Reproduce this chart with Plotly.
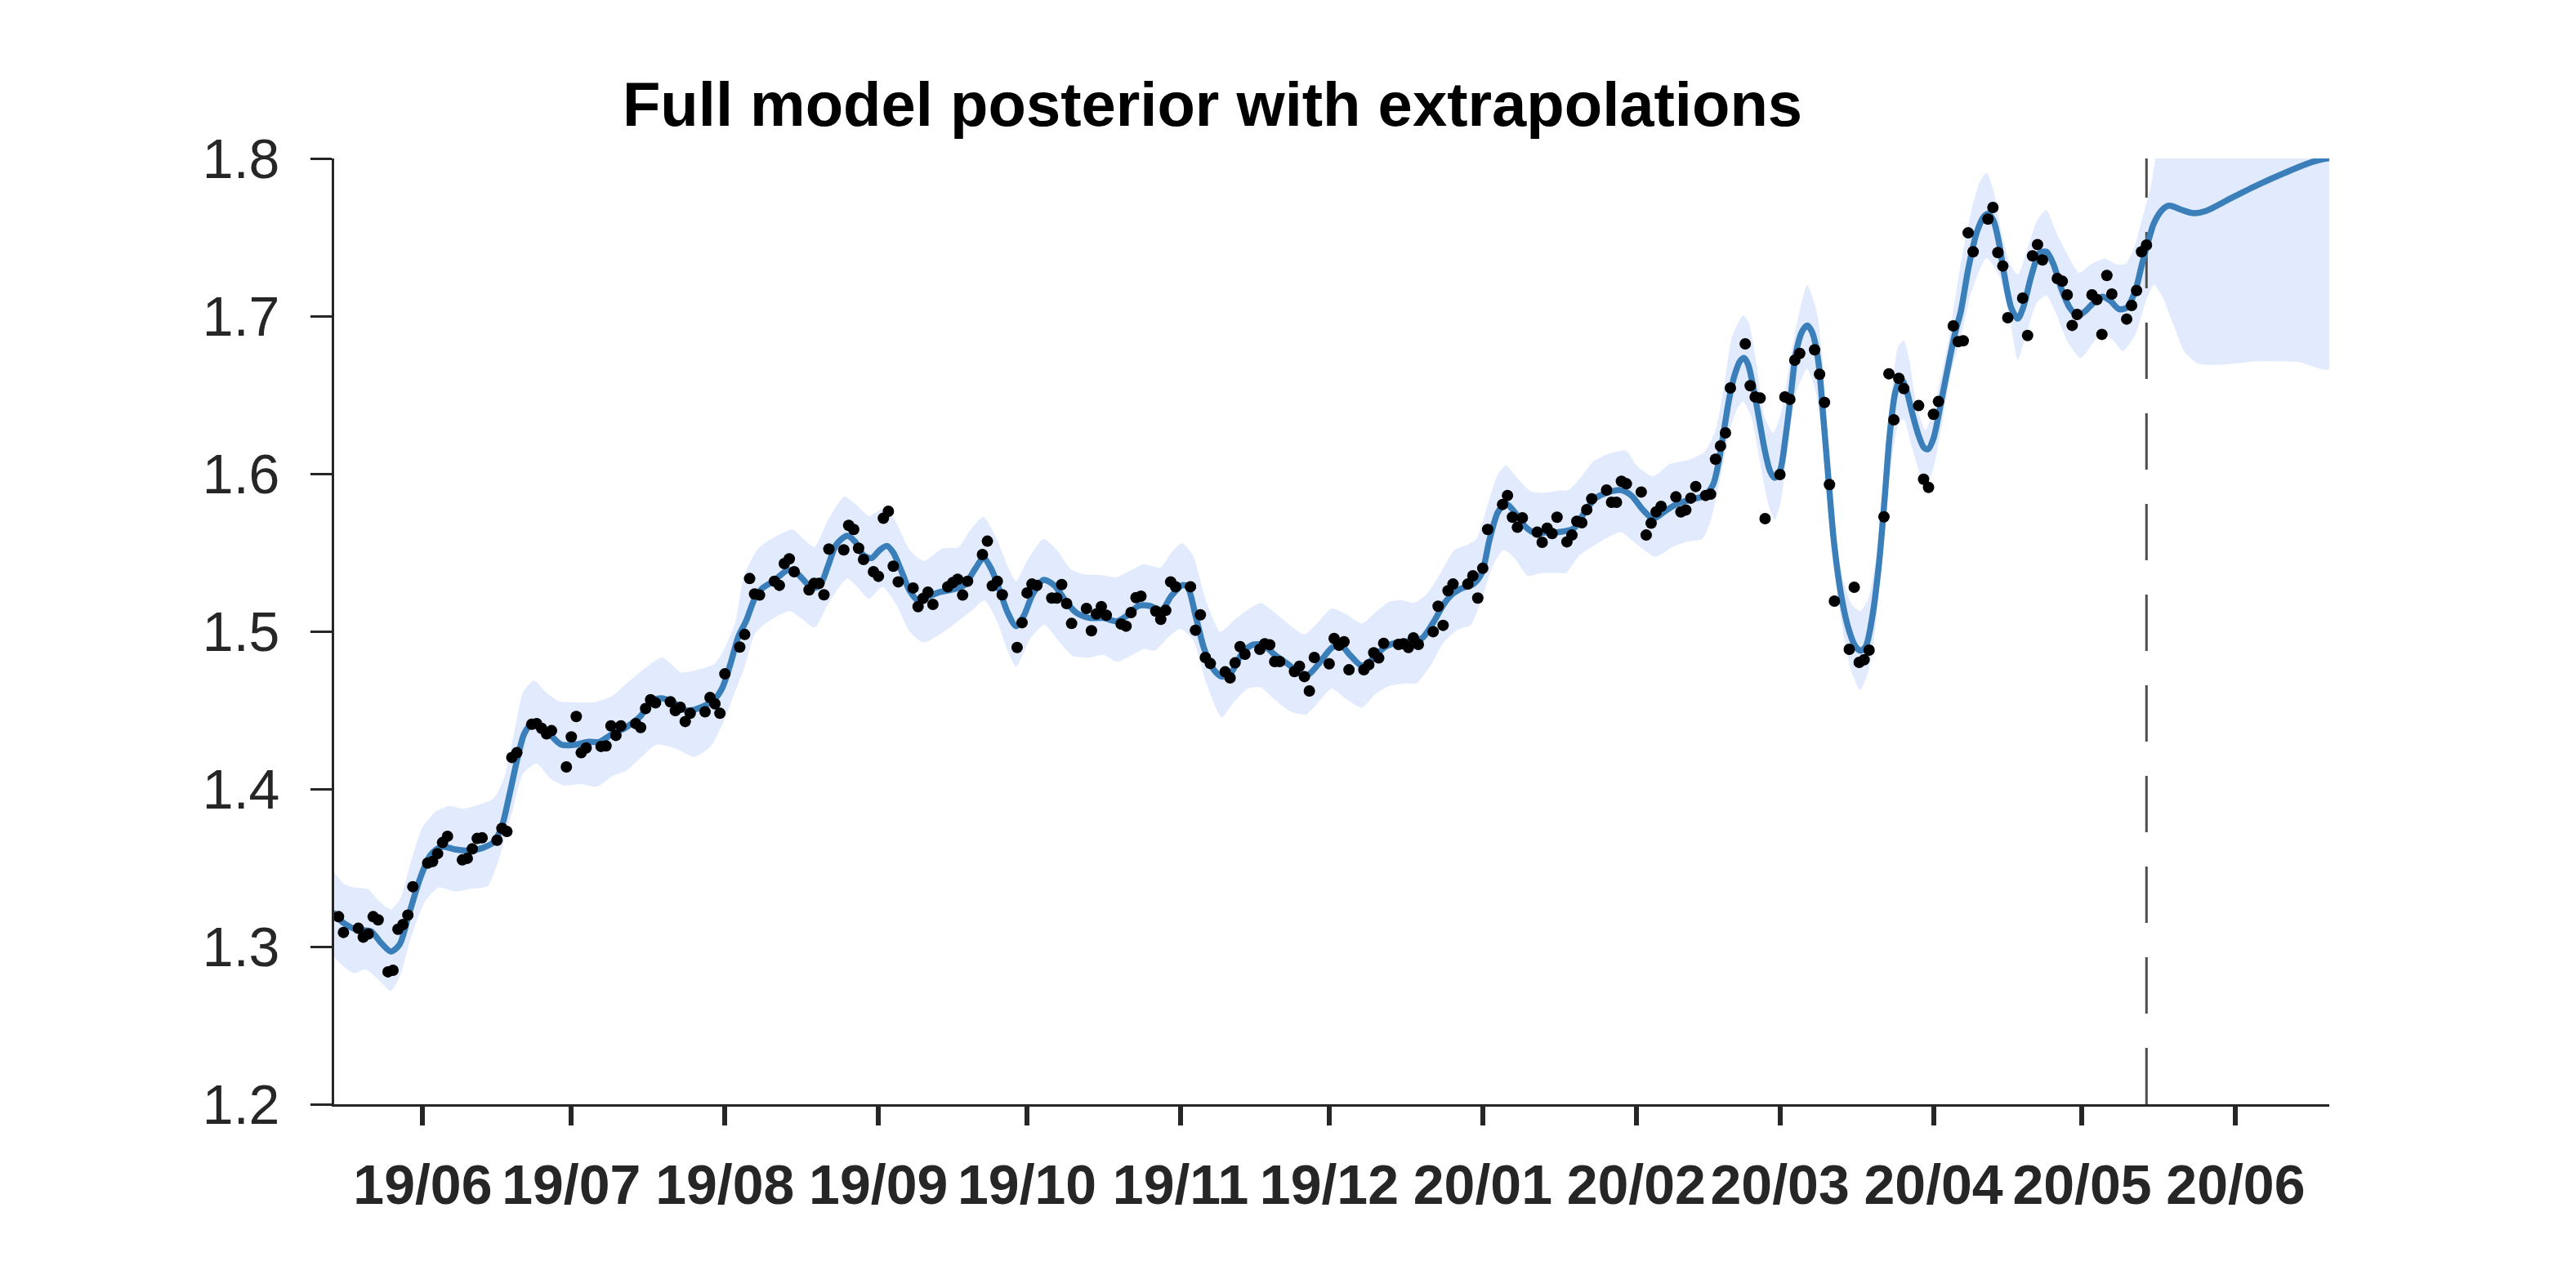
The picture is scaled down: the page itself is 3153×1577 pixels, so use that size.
import pandas as pd
import plotly.graph_objects as go

# ---------------- data ----------------
BASE_DATE = "2019-05-14"  # day 0

obs_day = [0, 1, 2, 5, 6, 7, 8, 9, 11, 12, 13, 14, 15, 16, 19, 20, 21, 22, 23, 26, 27, 28, 29, 30,
           33, 34, 35, 36, 37, 40, 41, 42, 43, 44, 47, 48, 49, 50, 51, 54, 55, 56, 57, 58, 61, 62, 63, 64, 65,
           68, 69, 70, 71, 72, 75, 76, 77, 78, 79, 82, 83,
           84, 85, 86, 89, 90, 91, 92, 93, 96, 97, 98, 99, 100, 103, 104, 105, 106, 107, 109, 110, 111, 112, 113, 114,
           117, 118, 119, 120, 121, 124, 125, 126, 127, 128, 131, 132, 133, 134, 135, 138, 139, 140, 141, 142,
           145, 146, 147, 148, 149, 152, 153, 154, 155, 156, 159, 160, 161, 162, 163, 166, 167,
           168, 169, 170, 173, 174, 175, 176, 177, 180, 181, 182, 183, 184, 187, 188, 189, 190, 191,
           194, 195, 196, 197, 198, 201, 202, 203, 204, 205, 208, 209, 210, 211, 212, 215, 216, 217, 218, 219,
           222, 223, 224, 225, 226, 229, 230, 231, 232, 233, 236, 237, 238, 239, 240, 243, 244, 245, 246, 247,
           249, 250, 251, 252, 253, 254, 257, 258, 259, 260, 261, 264, 265, 266, 267, 268, 271, 272, 273, 274, 275,
           277, 278, 279, 280, 281, 282, 285, 286, 287, 288, 289, 292, 293, 294, 295, 296, 299, 300, 301, 302, 303,
           306, 307, 308, 309, 310, 313, 314, 315, 316, 317, 320, 321, 322, 323, 324, 327, 328, 329,
           330, 331, 334, 335, 336, 337, 338, 341, 342, 343, 344, 345, 348, 349, 350, 351, 352,
           355, 356, 357, 358, 359, 362, 363, 364, 365, 366]
obs_val = [1.331, 1.319, 1.309, 1.3116, 1.306, 1.308, 1.319, 1.317, 1.284, 1.285, 1.311, 1.314, 1.320, 1.338,
           1.353, 1.354, 1.359, 1.366, 1.370, 1.355, 1.356, 1.362, 1.3686, 1.369,
           1.3675, 1.375, 1.373, 1.420, 1.423, 1.441, 1.4415, 1.4385, 1.435, 1.437, 1.414, 1.433, 1.446, 1.423, 1.426,
           1.427, 1.4273, 1.440, 1.434, 1.440, 1.4415, 1.439, 1.451, 1.4566, 1.4546,
           1.4553, 1.4497, 1.4518, 1.4428, 1.448, 1.449, 1.458, 1.454, 1.448, 1.473, 1.490, 1.498,
           1.5335, 1.5237, 1.523, 1.5318, 1.5292, 1.543, 1.546, 1.5378, 1.5263, 1.5304, 1.5304, 1.5232, 1.5522,
           1.5517, 1.5672, 1.5646, 1.5527, 1.5456, 1.5378, 1.5349, 1.5718, 1.5762, 1.5413, 1.5314,
           1.5275, 1.5157, 1.5209, 1.5249, 1.5171, 1.5283, 1.5309, 1.533, 1.523, 1.5318, 1.5487, 1.5572, 1.5289,
           1.5318, 1.5232, 1.4898, 1.5055, 1.5244, 1.530, 1.5292,
           1.5211, 1.5211, 1.5297, 1.5176, 1.505, 1.5145, 1.5004, 1.511, 1.5157, 1.5102, 1.5047, 1.5033, 1.5119,
           1.5214, 1.5223, 1.5128, 1.5076,
           1.5133, 1.5314, 1.5283, 1.5283, 1.5007, 1.5105, 1.4834, 1.4796, 1.4743, 1.4705, 1.480, 1.4903, 1.4855,
           1.4886, 1.4921, 1.4915, 1.4808, 1.4808,
           1.4745, 1.4779, 1.4713, 1.4622, 1.4834, 1.4794, 1.4955, 1.4912, 1.4934, 1.4756, 1.4756, 1.4788, 1.4864,
           1.4831, 1.4924, 1.4917, 1.4921, 1.4898, 1.4959, 1.4917,
           1.4998, 1.5159, 1.5038, 1.5258, 1.530, 1.530, 1.5352, 1.5211, 1.540, 1.5646, 1.5805, 1.5862, 1.5724,
           1.566, 1.572, 1.5629, 1.5565, 1.5654, 1.562, 1.5724,
           1.5568, 1.5611, 1.5698, 1.5689, 1.5772, 1.5841, 1.5896, 1.5819, 1.5819, 1.5952, 1.5936, 1.5884, 1.5611,
           1.5686, 1.5758, 1.5793, 1.5853, 1.5758, 1.5770, 1.5845, 1.5919,
           1.5862, 1.5870, 1.6092, 1.6176, 1.6259, 1.6544, 1.6824, 1.6558, 1.6487, 1.648, 1.5715, 1.5995, 1.6487,
           1.6472, 1.672, 1.6763, 1.6786, 1.6631, 1.6452, 1.5931, 1.5192,
           1.4886, 1.528, 1.4803, 1.482, 1.4881, 1.5727, 1.6634, 1.6342, 1.6605, 1.654, 1.6432, 1.5965, 1.5913,
           1.6377, 1.6458, 1.6938, 1.6838, 1.6843,
           1.7528, 1.7408, 1.7615, 1.7689, 1.7403, 1.7318, 1.699, 1.7114, 1.6877, 1.7382, 1.7454, 1.7356, 1.7238,
           1.7221, 1.7135, 1.6941, 1.701,
           1.7135, 1.7105, 1.6884, 1.7258, 1.714, 1.6981, 1.7067, 1.7162, 1.7408, 1.7451]

mean_day = [-0.2, 2, 4.7, 7.5, 9.7, 11.6, 13.3, 15.2, 17.4, 19.6, 21.8, 24.5, 27.3, 30.0, 32.2, 33.9, 35.5,
            37.2, 38.5, 39.9, 41.6, 43.8, 46.0, 48.7, 51.5, 53.7, 55.9, 59.2, 62.0, 64.1, 66.3, 68.5, 71.3,
            74.6, 76.8, 78.4, 80.1, 81.7, 83.3, 85, 86.6, 88.8, 91.6, 93.2, 94.9, 96.5, 98.2, 99.8, 101.5,
            103.7, 105.3, 107, 108.6, 110.3, 111.7, 113, 114.7, 116.3, 118, 120.2, 122.4, 125.1, 127.3, 129.5,
            131.2, 132.8, 134.5, 136.1, 137.8, 139.4, 141.1, 143.3, 145.5, 147.7, 149.9, 152.6, 155.4, 158.1,
            160.3, 162.5, 164.7, 167.2, 169.1, 171.3, 172.4, 174, 175.7, 177.3, 179.3, 181.2, 183.4, 185.6,
            187.8, 190, 192.7, 194.9, 196.6, 198.8, 201.5, 203.2, 205.4, 207.6, 209.8, 212, 214.7, 217.5,
            219.7, 221.9, 224.1, 225.7, 227.9, 230.1, 231.8, 233.4, 235.1, 236.7, 238.4, 240.6, 242.8, 245,
            247.2, 250.4, 252.6, 254.8, 257, 259.8, 262, 264.2, 266.4, 268.6, 271.3, 274.1, 276.8, 278.5,
            279.6, 280.7, 281.8, 282.9, 284, 284.8, 285.6, 286.7, 287.8, 288.9, 290, 290.9, 292, 293.1, 294.2,
            295.2, 296.4, 297.5, 298.5, 299.7, 300.7, 301.8, 302.9, 304.3, 305.7, 307.1, 308.2, 309.3, 310.6,
            312, 313.1, 314.2, 315.3, 316.4, 317.5, 318.6, 320, 321.1, 321.9, 323, 324.4, 325.8, 327.4, 328.5,
            330.1, 331.8, 333.2, 334, 335.1, 336.2, 337.3, 338.7, 340, 341.1, 342.8, 344.4, 345.8, 347.2,
            348.8, 350.5, 352.1, 353.8, 355.4, 357.1, 358.7, 360.4, 362, 363.7, 365.1, 366.3, 367.5, 369.2,
            370.6, 373, 375.5, 378, 382.9, 388.4, 393.9, 399.4, 403]
mean_val = [1.3219, 1.315, 1.3107, 1.3098, 1.302, 1.2969, 1.3012, 1.3202, 1.3427, 1.3582, 1.3634, 1.3617,
            1.3608, 1.3625, 1.366, 1.3755, 1.3962, 1.4204, 1.4351, 1.4411, 1.4403, 1.4342, 1.4281, 1.4281,
            1.4299, 1.4299, 1.4342, 1.4394, 1.4463, 1.4558, 1.4575, 1.4549, 1.4497, 1.4523, 1.4566, 1.4636,
            1.4791, 1.4964, 1.5067, 1.5206, 1.5275, 1.5318, 1.5387, 1.5378, 1.5326, 1.5275, 1.5292, 1.5413,
            1.5551, 1.5606, 1.5568, 1.5482, 1.5465, 1.5517, 1.5542, 1.5499, 1.5378, 1.5258, 1.5197, 1.5223,
            1.5249, 1.5266, 1.5292, 1.5395, 1.5465, 1.5395, 1.5258, 1.5119, 1.5033, 1.5102, 1.5232, 1.5326,
            1.5292, 1.5197, 1.5119, 1.5085, 1.5085, 1.5064, 1.5102, 1.5162, 1.5162, 1.5136, 1.5223, 1.5292,
            1.5283, 1.5102, 1.4895, 1.4774, 1.4713, 1.4739, 1.486, 1.4915, 1.4912, 1.4851, 1.4791, 1.4739,
            1.4722, 1.4791, 1.4895, 1.4915, 1.4843, 1.4782, 1.4825, 1.4895, 1.4929, 1.4938, 1.4955, 1.505,
            1.5171, 1.5232, 1.5275, 1.530, 1.537, 1.5585, 1.5758, 1.581, 1.5758, 1.5663, 1.562, 1.5629,
            1.5629, 1.5654, 1.5758, 1.5845, 1.5879, 1.5896, 1.5862, 1.5776, 1.5715, 1.5758, 1.581, 1.5836,
            1.5862, 1.5931, 1.6069, 1.6276, 1.6483, 1.6631, 1.6717, 1.6734, 1.6691, 1.6535, 1.6346, 1.6155,
            1.6017, 1.5974, 1.6017, 1.6224, 1.6501, 1.676, 1.6898, 1.6941, 1.6898, 1.6725, 1.638, 1.5965,
            1.5568, 1.524, 1.5033, 1.4912, 1.4877, 1.4903, 1.5084, 1.543, 1.5827, 1.6259, 1.6518, 1.6605,
            1.6535, 1.6397, 1.6242, 1.6164, 1.6155, 1.6224, 1.6432, 1.6656, 1.6898, 1.7028, 1.7312, 1.7537,
            1.7632, 1.7649, 1.7606, 1.7468, 1.7261, 1.7053, 1.6984, 1.7053, 1.7261, 1.7399, 1.7408, 1.733,
            1.7175, 1.7053, 1.7001, 1.7036, 1.7088, 1.7123, 1.7097, 1.7045, 1.7053, 1.7157, 1.733, 1.7468,
            1.7589, 1.7675, 1.7701, 1.7675, 1.7653, 1.7667, 1.7745, 1.7831, 1.7908, 1.7977, 1.8003]

upper_day = [-0.2, 2, 4.2, 6.9, 9.1, 11.6, 13.5, 15.7, 17.9, 20.7, 23.4, 26.2, 29.5, 32.2, 34.4, 36.6, 38.3,
             40.5, 42.7, 45.4, 49.3, 52.6, 55.9, 59.2, 62.5, 66.3, 70.2, 73.5, 76.8, 79, 81.2, 82.8, 85.5,
             88.3, 92.7, 94.9, 97.1, 99.8, 103.1, 105.3, 108.1, 110.8, 113, 116.3, 119.1, 122.9, 126.2, 128.4,
             131.2, 133.9, 136.1, 137.8, 140, 143.3, 146, 148.8, 151.5, 154.8, 158.1, 160.9, 163.6, 166.9,
             169.1, 171.3, 173.5, 176.2, 179, 181.7, 184.5, 187.2, 190, 193.3, 196, 198.8, 201.5, 204.3,
             207.6, 210.3, 213.1, 215.8, 218, 220.8, 223.5, 226.3, 229, 230.7, 232.9, 235.1, 236.7, 238.9,
             241.7, 244.4, 247.2, 249.3, 251.5, 254.3, 257, 260.9, 263.1, 266.4, 269.7, 273.5, 276.8, 279,
             280.7, 282.3, 284.5, 285.6, 287.3, 288.9, 290.6, 292.2, 293.9, 295.5, 297.5, 298.6, 299.6, 300.6,
             301.8, 303.2, 304.9, 306.5, 308.2, 309.8, 311.5, 313.1, 314.8, 315.9, 317, 318.1, 319.7, 321.4,
             323, 324.7, 326.3, 328.5, 330.7, 332.3, 333.7, 335.1, 336.7, 338.4, 340, 341.7, 343.9, 345.8,
             347.7, 349.9, 352.4, 354.9, 357.6, 359.8, 361.8, 363.7, 365.3, 366.7, 367.8, 369, 372, 380, 403]
upper_val = [1.3487, 1.340, 1.3375, 1.3366, 1.3289, 1.3237, 1.3306, 1.3548, 1.3755, 1.3859, 1.3893, 1.3876,
             1.3902, 1.3936, 1.4066, 1.4377, 1.4618, 1.4688, 1.4618, 1.4558, 1.4549, 1.455, 1.4584, 1.467,
             1.4756, 1.4834, 1.4739, 1.4756, 1.4791, 1.4895, 1.5067, 1.5344, 1.5517, 1.5585, 1.5646, 1.5585,
             1.5534, 1.5706, 1.5853, 1.581, 1.5732, 1.5776, 1.5724, 1.5517, 1.5447, 1.5525, 1.5534, 1.5637,
             1.5727, 1.5585, 1.5413, 1.5318, 1.5447, 1.5585, 1.5517, 1.5395, 1.5361, 1.5358, 1.5344, 1.5387,
             1.5426, 1.5404, 1.5499, 1.556, 1.5482, 1.5188, 1.4998, 1.5067, 1.5136, 1.518, 1.5119, 1.5033,
             1.4981, 1.5059, 1.5145, 1.511, 1.505, 1.5119, 1.5188, 1.5197, 1.518, 1.524, 1.537, 1.5517, 1.5551,
             1.5585, 1.5793, 1.600, 1.6052, 1.5974, 1.5888, 1.5879, 1.5893, 1.5896, 1.5965, 1.6078, 1.6121,
             1.6147, 1.6052, 1.5983, 1.6061, 1.6087, 1.6138, 1.6276, 1.6553, 1.6864, 1.7002, 1.6967, 1.6691,
             1.6363, 1.6259, 1.638, 1.6691, 1.6967, 1.7197, 1.712, 1.700, 1.672, 1.6138, 1.5585, 1.5309,
             1.5171, 1.5128, 1.5206, 1.5482, 1.6035, 1.6587, 1.6812, 1.6846, 1.6725, 1.6415, 1.6276, 1.6415,
             1.6639, 1.6898, 1.733, 1.7675, 1.7848, 1.791, 1.7799, 1.7537, 1.733, 1.7261, 1.7399, 1.7606,
             1.7672, 1.7537, 1.7399, 1.7275, 1.733, 1.7364, 1.733, 1.733, 1.7451, 1.7641, 1.7799, 1.80, 1.84,
             1.90, 1.95, 2.0]

lower_day = [-0.2, 2, 4.2, 6.4, 8.6, 11.6, 13.5, 15.7, 18.5, 21.2, 24.5, 27.8, 31.1, 33.3, 36.1, 38.3, 41,
             43.8, 46.5, 49.8, 53.1, 56.4, 59.2, 61.9, 65.2, 69.1, 72.9, 76.2, 79, 81.1, 82.8, 85, 87.2, 89.9,
             92.1, 94.3, 97.1, 99.8, 103.7, 105.9, 108.1, 110.8, 113.6, 116.3, 119.1, 122.4, 126.2, 129,
             131.4, 133.9, 136.1, 137.8, 140.5, 143.5, 146.6, 149.3, 152.6, 155.4, 158.1, 160.3, 163.6,
             165.8, 168.5, 171, 173.5, 176.2, 179.3, 181.7, 184.5, 187.2, 190, 193.3, 196.3, 198.8, 201.5,
             204.6, 207.6, 210.3, 213.1, 216.4, 218.6, 221.3, 224.1, 226.8, 229.6, 231.8, 234, 236.2, 238.4,
             241.1, 243.9, 247.2, 248.8, 251.5, 254.8, 259.8, 262.5, 266.9, 270.2, 273, 276.3, 277.9, 279.6,
             281.2, 282.9, 284.5, 286.2, 287.8, 289.5, 290.9, 292.2, 293.9, 295.5, 297.5, 299.1, 300.5, 301.8,
             303.2, 304.9, 306.5, 308.2, 309.8, 311.2, 312.6, 314.2, 315.9, 317, 318.6, 320.3, 321.6, 323,
             324.7, 326.3, 328.5, 330.7, 333.7, 336.2, 338.4, 340, 341.7, 343.9, 345.8, 347.7, 349.9, 352.7,
             355.2, 357.1, 359.3, 361.2, 363.7, 366.2, 367.5, 369.2, 371.4, 373.6, 376.3, 380.2, 388.4,
             396.7, 403]
lower_val = [1.2943, 1.2874, 1.283, 1.2856, 1.2805, 1.2719, 1.2822, 1.3064, 1.3289, 1.3375, 1.3349, 1.3366,
             1.3383, 1.3548, 1.3859, 1.41, 1.4161, 1.4066, 1.4022, 1.4031, 1.4014, 1.4083, 1.4118, 1.4195,
             1.4281, 1.4255, 1.4204, 1.4273, 1.4446, 1.462, 1.4756, 1.4981, 1.505, 1.5102, 1.5128, 1.5085,
             1.5024, 1.5171, 1.5335, 1.5275, 1.5206, 1.5283, 1.5171, 1.4998, 1.4929, 1.4981, 1.5067, 1.5136,
             1.5197, 1.5067, 1.4877, 1.4774, 1.4947, 1.5041, 1.4929, 1.4843, 1.4834, 1.4851, 1.4808, 1.4834,
             1.4889, 1.4877, 1.4964, 1.5016, 1.4947, 1.467, 1.4454, 1.4549, 1.4636, 1.4644, 1.4566, 1.4489,
             1.4472, 1.4549, 1.4636, 1.4566, 1.4515, 1.4601, 1.4653, 1.467, 1.467, 1.4774, 1.4929, 1.5007,
             1.5041, 1.5206, 1.5413, 1.5517, 1.5465, 1.5352, 1.537, 1.537, 1.5369, 1.5482, 1.5551, 1.5629,
             1.5568, 1.5473, 1.5534, 1.5568, 1.5585, 1.5689, 1.5913, 1.6173, 1.638, 1.6458, 1.6363, 1.6104,
             1.5827, 1.5706, 1.5827, 1.6259, 1.6535, 1.6665, 1.6535, 1.6259, 1.5793, 1.5344, 1.4964, 1.4739,
             1.4627, 1.4739, 1.4998, 1.5482, 1.600, 1.6311, 1.6346, 1.6173, 1.600, 1.5931, 1.6035, 1.6311,
             1.6605, 1.6864, 1.7157, 1.7368, 1.7261, 1.6984, 1.6725, 1.688, 1.7088, 1.7131, 1.7019, 1.6846,
             1.6734, 1.6829, 1.6898, 1.6846, 1.6777, 1.688, 1.7123, 1.72, 1.7123, 1.695, 1.6777, 1.670, 1.669,
             1.6713, 1.6708, 1.6665]

tick_dates = ["2019-06-01", "2019-07-01", "2019-08-01", "2019-09-01", "2019-10-01", "2019-11-01",
              "2019-12-01", "2020-01-01", "2020-02-01", "2020-03-01", "2020-04-01", "2020-05-01", "2020-06-01"]
tick_labels = ["19/06", "19/07", "19/08", "19/09", "19/10", "19/11", "19/12", "20/01", "20/02", "20/03",
               "20/04", "20/05", "20/06"]
y_ticks = [1.2, 1.3, 1.4, 1.5, 1.6, 1.7, 1.8]
x_range_days = [0.12, 402.9]
y_range = [1.2, 1.8]
title_text = "Full model posterior with extrapolations"

# ---------------- helpers ----------------
base = pd.Timestamp(BASE_DATE)


def to_dates(days):
    return [base + pd.Timedelta(days=float(d)) for d in days]


FONT = "Liberation Sans, Arial, Helvetica, sans-serif"
AX = "#262626"

# the page body adds an 8px margin around the figure
PAGE_OFF = 8
W, H = 3153 - 2 * PAGE_OFF, 1577 - 2 * PAGE_OFF
L, T = 409 - PAGE_OFF, 194 - PAGE_OFF
PW, PH = 2851 - 409, 1352 - 194

fig = go.Figure()

# posterior band
band_x = to_dates(upper_day) + to_dates(lower_day)[::-1]
band_y = upper_val + lower_val[::-1]
fig.add_trace(go.Scatter(x=band_x, y=band_y, fill="toself", mode="lines",
                         line=dict(width=0, shape="spline", smoothing=0.6),
                         fillcolor="rgb(226,235,253)", hoverinfo="skip", showlegend=False))

# vertical dashed line at last observation
last = to_dates([obs_day[-1]])[0]
fig.add_trace(go.Scatter(x=[last, last], y=[y_range[0], y_range[1]], mode="lines",
                         line=dict(color="#4d4d4d", width=3, dash="69px,42px"),
                         hoverinfo="skip", showlegend=False))

# posterior mean
fig.add_trace(go.Scatter(x=to_dates(mean_day), y=mean_val, mode="lines",
                         line=dict(color="rgb(58,127,186)", width=7.5, shape="spline", smoothing=0.8),
                         showlegend=False))

# observations
fig.add_trace(go.Scatter(x=to_dates(obs_day), y=obs_val, mode="markers",
                         marker=dict(color="black", size=14, line=dict(width=0)),
                         cliponaxis=False, showlegend=False))

fig.update_layout(
    width=W, height=H,
    margin=dict(l=L, r=W - L - PW, t=T, b=H - T - PH, pad=0),
    paper_bgcolor="white", plot_bgcolor="white",
    font=dict(family=FONT, color=AX),
    title=dict(text=title_text, x=(1484 - PAGE_OFF) / W, y=1 - (127 - PAGE_OFF) / H,
               xref="container", yref="container", xanchor="center", yanchor="middle",
               font=dict(family=FONT, size=76, color="black", weight="bold")),
    showlegend=False,
)

fig.update_xaxes(
    type="date", range=to_dates(x_range_days),
    tickvals=tick_dates, ticktext=tick_labels,
    showgrid=False, zeroline=False,
    showline=True, linewidth=3, linecolor=AX,
    ticks="outside", ticklen=23, tickwidth=6, tickcolor=AX,
    ticklabelstandoff=14,
    tickfont=dict(family=FONT, size=68, color=AX, weight="bold"),
)
fig.update_yaxes(
    range=y_range, tickvals=y_ticks, ticktext=[f"{v:.1f}" for v in y_ticks],
    showgrid=False, zeroline=False,
    showline=True, linewidth=3, linecolor=AX,
    ticks="outside", ticklen=26, tickwidth=3, tickcolor=AX,
    ticklabelstandoff=24,
    tickfont=dict(family=FONT, size=68, color=AX),
)

fig.write_html("out.html")
